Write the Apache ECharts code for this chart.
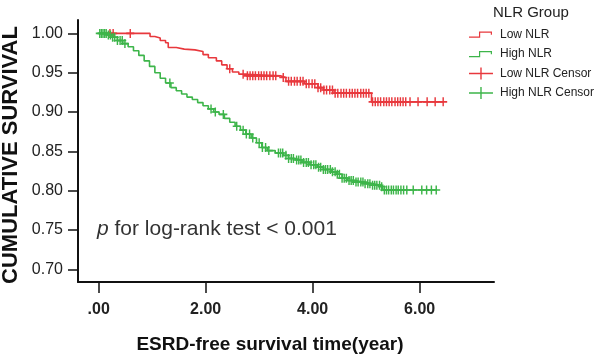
<!DOCTYPE html>
<html>
<head>
<meta charset="utf-8">
<script src="https://cdn.jsdelivr.net/npm/echarts@6.0.0/dist/echarts.min.js"></script>
<style>
  html, body { margin: 0; padding: 0; background: #fff; }
  #root { width: 598px; height: 358px; }
</style>
</head>
<body>
<div id="root"></div>
<script>
// Kaplan-Meier steps (time in years, survival after the drop)
var lowTime = [0, 0.96, 1.05, 1.15, 1.25, 1.30, 1.45, 1.60, 1.80, 1.95, 2.05, 2.20, 2.30, 2.40, 2.50, 2.62, 2.75, 3.40, 3.50, 3.85, 4.10, 4.20, 4.40, 5.10, 6.44]
var lowSurv = [1.000, 0.996, 0.994, 0.991, 0.988, 0.982, 0.980, 0.979, 0.977, 0.973, 0.969, 0.965, 0.960, 0.955, 0.951, 0.948, 0.946, 0.944, 0.939, 0.936, 0.931, 0.928, 0.924, 0.913, 0.913]

var highTime = [0, 0.15, 0.25, 0.35, 0.45, 0.55, 0.65, 0.75, 0.85, 0.95, 1.05, 1.15, 1.25, 1.35, 1.45, 1.55, 1.65, 1.75, 1.85, 1.95, 2.05, 2.15, 2.25, 2.35, 2.45, 2.55, 2.65, 2.75, 2.85, 2.95, 3.05, 3.15, 3.30, 3.45, 3.55, 3.65, 3.80, 3.95, 4.10, 4.20, 4.35, 4.45, 4.55, 4.65, 4.80, 4.95, 5.10, 5.29, 5.32, 6.31]
var highSurv = [1.000, 0.998, 0.995, 0.991, 0.987, 0.983, 0.978, 0.972, 0.965, 0.958, 0.950, 0.943, 0.937, 0.931, 0.927, 0.923, 0.919, 0.916, 0.912, 0.908, 0.904, 0.900, 0.897, 0.892, 0.887, 0.882, 0.877, 0.872, 0.867, 0.861, 0.855, 0.851, 0.848, 0.845, 0.841, 0.839, 0.836, 0.833, 0.830, 0.827, 0.824, 0.821, 0.816, 0.813, 0.811, 0.809, 0.807, 0.805, 0.801, 0.801]

// censored cases (times)
var lowCensor = [0.21, 0.27, 0.59, 2.45, 2.70, 2.78, 2.83, 2.88, 2.93, 2.99, 3.04, 3.09, 3.14, 3.20, 3.26, 3.31, 3.45, 3.55, 3.60, 3.66, 3.71, 3.77, 3.82, 3.88, 3.93, 3.99, 4.04, 4.10, 4.15, 4.21, 4.26, 4.32, 4.37, 4.42, 4.47, 4.53, 4.58, 4.63, 4.69, 4.74, 4.79, 4.84, 4.90, 4.95, 5.00, 5.05, 5.12, 5.17, 5.22, 5.27, 5.33, 5.38, 5.43, 5.48, 5.54, 5.59, 5.64, 5.69, 5.74, 5.82, 5.97, 6.14, 6.29, 6.44]
var highCensor = [0.02, 0.05, 0.08, 0.11, 0.14, 0.18, 0.22, 0.26, 0.30, 0.35, 0.40, 0.44, 0.49, 1.33, 2.10, 2.18, 2.33, 2.58, 2.70, 2.76, 2.82, 2.88, 3.00, 3.06, 3.12, 3.18, 3.36, 3.40, 3.44, 3.50, 3.55, 3.60, 3.64, 3.70, 3.74, 3.78, 3.83, 3.88, 3.92, 3.97, 4.02, 4.06, 4.11, 4.15, 4.20, 4.24, 4.28, 4.33, 4.37, 4.42, 4.46, 4.50, 4.55, 4.59, 4.63, 4.68, 4.72, 4.76, 4.81, 4.85, 4.90, 4.94, 4.98, 5.03, 5.07, 5.12, 5.16, 5.20, 5.25, 5.29, 5.34, 5.38, 5.42, 5.47, 5.51, 5.56, 5.60, 5.65, 5.70, 5.76, 5.88, 6.04, 6.13, 6.22, 6.31]

var xTicks = [0, 2, 4, 6]
var xTickLabels = ['.00', '2.00', '4.00', '6.00']
var yTicks = [0.70, 0.75, 0.80, 0.85, 0.90, 0.95, 1.00]
var yTickLabels = ['0.70', '0.75', '0.80', '0.85', '0.90', '0.95', '1.00']

var RED = '#e8383d'
var GREEN = '#3db54a'
var sans = "'Liberation Sans', Arial, Helvetica, sans-serif"

function pairs (xs, ys) {
  var out = []
  for (var i = 0; i < xs.length; i++) out.push([xs[i], ys[i]])
  return out
}

// survival value of the step curve at time t
function survAt (xs, ys, t) {
  var v = ys[0]
  for (var i = 0; i < xs.length; i++) {
    if (xs[i] <= t + 1e-9) v = ys[i]
  }
  return v
}

function censorPoints (times, xs, ys) {
  return times.map(function (t) { return [t, survAt(xs, ys, t)] })
}

var plusMark = 'path://M4.1,0H5.9V10H4.1ZM0,4.1H10V5.9H0Z'
var stepIcon = 'path://M0,0h.01v.01h-.01zM24,12h.01v.01h-.01zM0,8H10V3H23V6.2H21.8V4.2H11.2V9.2H0Z'
var plusIcon = 'path://M0,0h.01v.01h-.01zM24,12h.01v.01h-.01zM11.3,0H12.7V12H11.3ZM0,5.3H24V6.7H0Z'

var chart = echarts.init(document.getElementById('root'), null, { renderer: 'canvas' })

var option = {
  animation: false,
  backgroundColor: '#fff',
  title: {
    text: 'NLR Group',
    left: 493,
    top: 5,
    padding: 0,
    textStyle: { fontFamily: sans, fontSize: 15, fontWeight: 'normal', color: '#222' }
  },
  legend: {
    orient: 'vertical',
    left: 469,
    top: 28.5,
    padding: 0,
    itemWidth: 24,
    itemHeight: 12,
    itemGap: 7.5,
    selectedMode: false,
    textStyle: { fontFamily: sans, fontSize: 12, color: '#222', padding: [0, 0, 0, 2] },
    data: [
      { name: 'Low NLR', icon: stepIcon },
      { name: 'High NLR', icon: stepIcon },
      { name: 'Low NLR Censor', icon: plusIcon },
      { name: 'High NLR Censor', icon: plusIcon }
    ]
  },
  grid: { left: 78, top: 20, right: 104, bottom: 76 },
  xAxis: {
    type: 'value',
    min: -0.387,
    max: 7.39,
    splitLine: { show: false },
    axisLine: { onZero: false, lineStyle: { color: '#111', width: 2 } },
    axisTick: { customValues: xTicks, length: 11, lineStyle: { color: '#111', width: 1.5 } },
    axisLabel: {
      customValues: xTicks,
      margin: 20,
      fontFamily: sans,
      fontSize: 16,
      fontWeight: 'bold',
      color: '#222',
      formatter: function (v) { return xTickLabels[xTicks.indexOf(v)] }
    }
  },
  yAxis: {
    type: 'value',
    min: 0.684,
    max: 1.017,
    splitLine: { show: false },
    axisLine: { onZero: false, lineStyle: { color: '#111', width: 2 } },
    axisTick: { customValues: yTicks, length: 10, lineStyle: { color: '#111', width: 1.5 } },
    axisLabel: {
      customValues: yTicks,
      margin: 15,
      fontFamily: sans,
      fontSize: 16,
      color: '#222',
      formatter: function (v) {
        for (var i = 0; i < yTicks.length; i++) {
          if (Math.abs(yTicks[i] - v) < 1e-6) return yTickLabels[i]
        }
        return ''
      }
    }
  },
  graphic: [
    {
      type: 'text',
      rotation: Math.PI / 2,
      x: 11,
      y: 155,
      style: {
        text: 'CUMULATIVE SURVIVAL',
        font: 'bold 22px ' + sans,
        fill: '#111',
        align: 'center',
        verticalAlign: 'middle'
      }
    },
    {
      type: 'text',
      x: 270,
      y: 345,
      style: {
        text: 'ESRD-free survival time(year)',
        font: 'bold 19px ' + sans,
        fill: '#111',
        align: 'center',
        verticalAlign: 'middle'
      }
    },
    {
      type: 'text',
      x: 97,
      y: 229,
      style: {
        text: '{i|p} for log-rank test < 0.001',
        font: '21px ' + sans,
        fill: '#333',
        verticalAlign: 'middle',
        rich: {
          i: { font: 'italic 21px ' + sans, fill: '#333' }
        }
      }
    }
  ],
  series: [
    {
      name: 'Low NLR',
      type: 'line',
      step: 'end',
      symbol: 'none',
      color: RED,
      lineStyle: { width: 1.6, color: RED },
      data: pairs(lowTime, lowSurv),
      silent: true,
      z: 2
    },
    {
      name: 'High NLR',
      type: 'line',
      step: 'end',
      symbol: 'none',
      color: GREEN,
      lineStyle: { width: 1.6, color: GREEN },
      data: pairs(highTime, highSurv),
      silent: true,
      z: 2
    },
    {
      name: 'Low NLR Censor',
      type: 'scatter',
      symbol: plusMark,
      symbolSize: [8, 9],
      color: RED,
      itemStyle: { color: RED, opacity: 1 },
      data: censorPoints(lowCensor, lowTime, lowSurv),
      silent: true,
      z: 3
    },
    {
      name: 'High NLR Censor',
      type: 'scatter',
      symbol: plusMark,
      symbolSize: [8, 9],
      color: GREEN,
      itemStyle: { color: GREEN, opacity: 1 },
      data: censorPoints(highCensor, highTime, highSurv),
      silent: true,
      z: 3
    }
  ]
}

chart.setOption(option)
</script>
</body>
</html>
